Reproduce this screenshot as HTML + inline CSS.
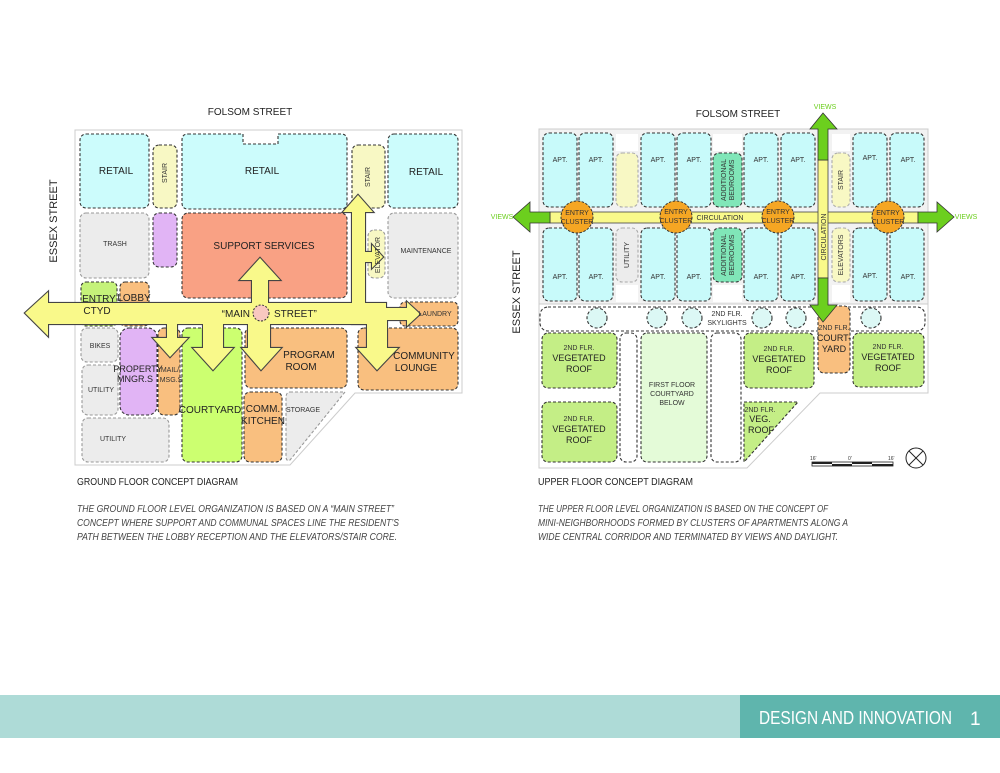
<!DOCTYPE html>
<html><head><meta charset="utf-8"><style>
html,body{margin:0;padding:0;background:#fff;}
svg{display:block;font-family:"Liberation Sans Narrow","Liberation Sans",sans-serif;}
</style></head><body>
<svg width="1000" height="773" viewBox="0 0 1000 773" xmlns="http://www.w3.org/2000/svg">
<defs>
<g id="arrL">
<rect x="48" y="303" width="338" height="21"/>
<polygon points="48,292 25,313 48,336"/>
<rect x="386" y="308" width="22" height="12"/>
<polygon points="407,302 420,314 407,326"/>
<rect x="352" y="211" width="13" height="113"/>
<polygon points="343,212 358,195 373,212"/>
<rect x="367" y="318" width="20" height="31"/>
<polygon points="357,348 377,370 398,348"/>
<rect x="364" y="252" width="9" height="10"/>
<polygon points="372,245 383,257 372,268"/>
<rect x="252" y="279" width="16" height="26"/>
<polygon points="240,280 260,258 280,280"/>
<rect x="248" y="322" width="22" height="27"/>
<polygon points="242,348 261,370 281,348"/>
<rect x="203" y="322" width="20" height="27"/>
<polygon points="193,348 213,370 233,348"/>
<rect x="167" y="322" width="10" height="17"/>
<polygon points="153,338 170,357 188,338"/>
</g>
</defs>
<g font-size="8" fill="#222">
<!-- LEFT DIAGRAM -->
<text x="250" y="115" font-size="10" text-anchor="middle">FOLSOM STREET</text>
<text transform="translate(57,221) rotate(-90)" font-size="11" text-anchor="middle">ESSEX STREET</text>
<polygon points="75,130 462,130 462,393 355,393 290,465 75,465" fill="#fff" stroke="#ccc" stroke-width="1"/>
<g stroke="#333" stroke-width="1.1" stroke-dasharray="3,2">
<rect x="80" y="134" width="69" height="74" rx="6" fill="#ccfcfc"/>
<rect x="153" y="145" width="24" height="63" rx="6" fill="#f8f8c4"/>
<path d="M188,134 H243 V144 H278 V134 H341 Q347,134 347,140 V203 Q347,209 341,209 H188 Q182,209 182,203 V140 Q182,134 188,134Z" fill="#ccfcfc"/>
<rect x="352" y="145" width="33" height="63" rx="6" fill="#f8f8c4"/>
<rect x="388" y="134" width="70" height="74" rx="6" fill="#ccfcfc"/>
<rect x="80" y="213" width="69" height="65" rx="6" fill="#ececec" stroke="#999"/>
<rect x="153" y="213" width="24" height="54" rx="6" fill="#e1b4f5"/>
<rect x="182" y="213" width="165" height="85" rx="6" fill="#f9a184"/>
<rect x="368" y="230" width="17" height="48" rx="6" fill="#f8f8c4" stroke="#999"/>
<rect x="388" y="213" width="70" height="85" rx="6" fill="#ececec" stroke="#999"/>
<rect x="81" y="282" width="36" height="44" rx="5" fill="#c5f27a"/>
<rect x="120" y="282" width="29" height="44" rx="5" fill="#f9bf7f"/>
<rect x="400" y="302" width="58" height="24" rx="5" fill="#f9bf7f"/>
<rect x="81" y="328" width="37" height="34" rx="6" fill="#ececec" stroke="#999"/>
<rect x="82" y="365" width="36" height="50" rx="6" fill="#ececec" stroke="#999"/>
<rect x="120" y="328" width="37" height="87" rx="9" fill="#e1b4f5"/>
<rect x="158" y="328" width="22" height="87" rx="6" fill="#f9bf7f"/>
<rect x="182" y="328" width="60" height="134" rx="6" fill="#ccff70"/>
<rect x="245" y="328" width="102" height="60" rx="6" fill="#f9bf7f"/>
<rect x="358" y="328" width="100" height="62" rx="6" fill="#f9bf7f"/>
<rect x="244" y="392" width="38" height="70" rx="6" fill="#f9bf7f"/>
<path d="M290,392 H345 L290,460 Q286,462 286,456 V398 Q286,392 290,392Z" fill="#ececec" stroke="#999"/>
<rect x="82" y="418" width="87" height="44" rx="6" fill="#ececec" stroke="#999"/>
</g>
<use href="#arrL" fill="#f9f98a" stroke="#444" stroke-width="2.2"/>
<use href="#arrL" fill="#f9f98a"/>
<circle cx="261" cy="313" r="8" fill="#f9c8c0" stroke="#333" stroke-dasharray="2,1.5"/>
<g font-size="10" text-anchor="middle">
<text x="116" y="174">RETAIL</text>
<text x="262" y="174">RETAIL</text>
<text x="426" y="175">RETAIL</text>
<text x="264" y="249">SUPPORT SERVICES</text>
<text x="250" y="317" text-anchor="end">“MAIN</text>
<text x="274" y="317" text-anchor="start">STREET”</text>
<text x="99" y="302">ENTRY</text><text x="97" y="314">CTYD</text>
<text x="134" y="301">LOBBY</text>
<text x="309" y="358">PROGRAM</text><text x="301" y="370">ROOM</text>
<text x="424" y="359">COMMUNITY</text><text x="416" y="371">LOUNGE</text>
<text x="210" y="413">COURTYARD</text>
<text x="263" y="412">COMM.</text><text x="263" y="424">KITCHEN</text>
<text x="138" y="372" font-size="9">PROPERTY</text><text x="135" y="382" font-size="9">MNGR.S</text>
</g>
<g font-size="7" text-anchor="middle" fill="#333">
<text x="115" y="246">TRASH</text>
<text x="426" y="253">MAINTENANCE</text>
<text x="100" y="348">BIKES</text>
<text x="101" y="392">UTILITY</text>
<text x="113" y="441">UTILITY</text>
<text x="303" y="412">STORAGE</text>
<text x="435" y="316">LAUNDRY</text>
<text x="170" y="372">MAIL/</text><text x="171" y="382">MSG.S</text>
<text transform="translate(167,173) rotate(-90)">STAIR</text>
<text transform="translate(370,177) rotate(-90)">STAIR</text>
<text transform="translate(380,255) rotate(-90)">ELEVATOR</text>
</g>

<!-- RIGHT DIAGRAM -->
<text x="738" y="117" font-size="10" text-anchor="middle">FOLSOM STREET</text>
<text transform="translate(520,292) rotate(-90)" font-size="11" text-anchor="middle">ESSEX STREET</text>
<polygon points="539,129 928,129 928,393 820,393 747,468 539,468" fill="#fff" stroke="#ccc"/>
<rect x="539" y="129" width="389" height="175" fill="#f2f2f2" stroke="#ccc"/>
<rect x="616" y="134" width="22" height="17" fill="#fff"/>
<rect x="713" y="134" width="29" height="17" fill="#fff"/>
<rect x="832" y="134" width="18" height="17" fill="#fff"/>
<rect x="616" y="285" width="22" height="17" fill="#fff"/>
<rect x="713" y="285" width="29" height="17" fill="#fff"/>
<rect x="832" y="285" width="18" height="17" fill="#fff"/>
<g stroke="#333" stroke-width="1.1" stroke-dasharray="3,2" fill="#c8fafa">
<rect x="543" y="133" width="34" height="74" rx="6"/><rect x="579" y="133" width="34" height="74" rx="6"/>
<rect x="641" y="133" width="34" height="74" rx="6"/><rect x="677" y="133" width="34" height="74" rx="6"/>
<rect x="744" y="133" width="34" height="74" rx="6"/><rect x="781" y="133" width="34" height="74" rx="6"/>
<rect x="853" y="133" width="34" height="74" rx="6"/><rect x="890" y="133" width="34" height="74" rx="6"/>
<rect x="543" y="228" width="34" height="73" rx="6"/><rect x="579" y="228" width="34" height="73" rx="6"/>
<rect x="641" y="228" width="34" height="73" rx="6"/><rect x="677" y="228" width="34" height="73" rx="6"/>
<rect x="744" y="228" width="34" height="73" rx="6"/><rect x="781" y="228" width="34" height="73" rx="6"/>
<rect x="853" y="228" width="34" height="73" rx="6"/><rect x="890" y="228" width="34" height="73" rx="6"/>
<rect x="616" y="153" width="22" height="54" rx="6" fill="#f8f8c4" stroke="#aaa"/>
<rect x="616" y="228" width="22" height="54" rx="6" fill="#ececec" stroke="#aaa"/>
<rect x="713" y="153" width="29" height="54" rx="6" fill="#80e6b8"/>
<rect x="713" y="228" width="29" height="54" rx="6" fill="#80e6b8"/>
<rect x="832" y="153" width="18" height="54" rx="6" fill="#f8f8c4" stroke="#aaa"/>
<rect x="832" y="228" width="18" height="54" rx="6" fill="#f8f8c4" stroke="#aaa"/>
<rect x="540" y="307" width="385" height="24" rx="8" fill="#fff"/>
<g fill="#dcf8f5"><circle cx="597" cy="318" r="10"/><circle cx="657" cy="318" r="10"/><circle cx="692" cy="318" r="10"/><circle cx="762" cy="318" r="10"/><circle cx="796" cy="318" r="10"/><circle cx="871" cy="318" r="10"/></g>
<rect x="542" y="333" width="75" height="55" rx="6" fill="#c4ee86"/>
<rect x="620" y="333" width="17" height="129" rx="6" fill="#fff"/>
<rect x="641" y="333" width="66" height="129" rx="6" fill="#e4fbd8"/>
<rect x="711" y="333" width="30" height="129" rx="6" fill="#fff"/>
<rect x="744" y="333" width="70" height="55" rx="6" fill="#c4ee86"/>
<rect x="818" y="306" width="32" height="67" rx="6" fill="#f9bf7f"/>
<rect x="853" y="333" width="71" height="54" rx="6" fill="#c4ee86"/>
<rect x="542" y="402" width="75" height="60" rx="6" fill="#c4ee86"/>
<polygon points="744,402 798,402 744,462" fill="#c4ee86"/>
</g>
<rect x="550" y="212" width="368" height="11" fill="#f9f98a" stroke="#444" stroke-width="0.8"/>
<rect x="818" y="160" width="10" height="118" fill="#f9f98a" stroke="#444" stroke-width="0.8"/>
<rect x="818.5" y="212.5" width="9" height="10" fill="#f9f98a"/>
<g fill="#6ccf1e" stroke="#333" stroke-width="0.8">
<polygon points="550,212 530,212 530,202 513,217 530,232 530,223 550,223"/>
<polygon points="918,212 937,212 937,202 954,217 937,232 937,223 918,223"/>
<polygon points="818,160 818,129 810,129 823,113 837,129 828,129 828,160"/>
<polygon points="818,278 818,305 810,305 823,322 837,305 828,305 828,278"/>
</g>
<g fill="#f5a623" stroke="#333" stroke-dasharray="2.5,1.5">
<circle cx="577" cy="217" r="16"/><circle cx="676" cy="217" r="16"/><circle cx="778" cy="217" r="16"/><circle cx="888" cy="217" r="16"/>
</g>
<g font-size="7" text-anchor="middle" fill="#333">
<text x="560" y="162">APT.</text><text x="596" y="162">APT.</text><text x="658" y="162">APT.</text><text x="694" y="162">APT.</text>
<text x="761" y="162">APT.</text><text x="798" y="162">APT.</text><text x="870" y="160">APT.</text><text x="908" y="162">APT.</text>
<text x="560" y="279">APT.</text><text x="596" y="279">APT.</text><text x="658" y="279">APT.</text><text x="694" y="279">APT.</text>
<text x="761" y="279">APT.</text><text x="798" y="279">APT.</text><text x="870" y="278">APT.</text><text x="908" y="279">APT.</text>
<text x="577" y="215">ENTRY</text><text x="577" y="224">CLUSTER</text>
<text x="676" y="214">ENTRY</text><text x="676" y="223">CLUSTER</text>
<text x="778" y="214">ENTRY</text><text x="778" y="223">CLUSTER</text>
<text x="888" y="215">ENTRY</text><text x="888" y="224">CLUSTER</text>
<text x="720" y="220">CIRCULATION</text>
<text x="727" y="316">2ND FLR.</text><text x="727" y="325">SKYLIGHTS</text>
<text x="672" y="387">FIRST FLOOR</text><text x="672" y="396">COURTYARD</text><text x="672" y="405">BELOW</text>
<text x="579" y="350">2ND FLR.</text><text x="579" y="421">2ND FLR.</text>
<text x="779" y="351">2ND FLR.</text><text x="888" y="349">2ND FLR.</text>
<text x="834" y="330">2ND FLR.</text><text x="760" y="412">2ND FLR.</text>
<text transform="translate(826,237) rotate(-90)">CIRCULATION</text>
<text transform="translate(843,180) rotate(-90)">STAIR</text>
<text transform="translate(843,255) rotate(-90)">ELEVATORS</text>
<text transform="translate(629,255) rotate(-90)">UTILITY</text>
<text transform="translate(726,180) rotate(-90)">ADDITIONAL</text><text transform="translate(734,180) rotate(-90)">BEDROOMS</text>
<text transform="translate(726,255) rotate(-90)">ADDITIONAL</text><text transform="translate(734,255) rotate(-90)">BEDROOMS</text>
</g>
<g font-size="9" text-anchor="middle" fill="#222">
<text x="579" y="361">VEGETATED</text><text x="579" y="372">ROOF</text>
<text x="579" y="432">VEGETATED</text><text x="579" y="443">ROOF</text>
<text x="779" y="362">VEGETATED</text><text x="779" y="373">ROOF</text>
<text x="888" y="360">VEGETATED</text><text x="888" y="371">ROOF</text>
<text x="834" y="341">COURT-</text><text x="834" y="352">YARD</text>
<text x="760" y="422">VEG.</text><text x="761" y="433">ROOF</text>
</g>
<g font-size="7" fill="#6ccf1e" text-anchor="middle">
<text x="825" y="109">VIEWS</text><text x="502" y="219">VIEWS</text><text x="966" y="219">VIEWS</text>
</g>
<g font-size="5" fill="#333"><text x="810" y="460">16'</text><text x="848" y="460">0'</text><text x="888" y="460">16'</text></g>
<rect x="812" y="462" width="81" height="4" fill="#fff" stroke="#222" stroke-width="0.8"/>
<rect x="812" y="462" width="20" height="2" fill="#222"/><rect x="852" y="462" width="20" height="2" fill="#222"/>
<rect x="832" y="464" width="20" height="2" fill="#222"/><rect x="872" y="464" width="21" height="2" fill="#222"/>
<circle cx="916" cy="458" r="10" fill="none" stroke="#222"/>
<line x1="909" y1="451" x2="923" y2="465" stroke="#222"/><line x1="923" y1="451" x2="909" y2="465" stroke="#222"/>

<g font-size="10.5" fill="#222">
<text x="77" y="485" textLength="161" lengthAdjust="spacingAndGlyphs">GROUND FLOOR CONCEPT DIAGRAM</text>
<text x="538" y="485" textLength="155" lengthAdjust="spacingAndGlyphs">UPPER FLOOR CONCEPT DIAGRAM</text>
</g>
<g font-size="10.5" fill="#444" font-style="italic">
<text x="77" y="512" textLength="317" lengthAdjust="spacingAndGlyphs">THE GROUND FLOOR LEVEL ORGANIZATION IS BASED ON A “MAIN STREET”</text>
<text x="77" y="526" textLength="322" lengthAdjust="spacingAndGlyphs">CONCEPT WHERE SUPPORT AND COMMUNAL SPACES LINE THE RESIDENT’S</text>
<text x="77" y="540" textLength="320" lengthAdjust="spacingAndGlyphs">PATH BETWEEN THE LOBBY RECEPTION AND THE ELEVATORS/STAIR CORE.</text>
<text x="538" y="512" textLength="290" lengthAdjust="spacingAndGlyphs">THE UPPER FLOOR LEVEL ORGANIZATION IS BASED ON THE CONCEPT OF</text>
<text x="538" y="526" textLength="310" lengthAdjust="spacingAndGlyphs">MINI-NEIGHBORHOODS FORMED BY CLUSTERS OF APARTMENTS ALONG A</text>
<text x="538" y="540" textLength="300" lengthAdjust="spacingAndGlyphs">WIDE CENTRAL CORRIDOR AND TERMINATED BY VIEWS AND DAYLIGHT.</text>
</g>
</g>
<rect x="0" y="695" width="1000" height="43" fill="#aedbd7"/>
<rect x="740" y="695" width="260" height="43" fill="#5fb5ad"/>
<text x="759" y="724" font-size="18" fill="#fff" textLength="193" lengthAdjust="spacingAndGlyphs">DESIGN AND INNOVATION</text>
<text x="970" y="725" font-size="19" fill="#fff">1</text>
</svg>
</body></html>
